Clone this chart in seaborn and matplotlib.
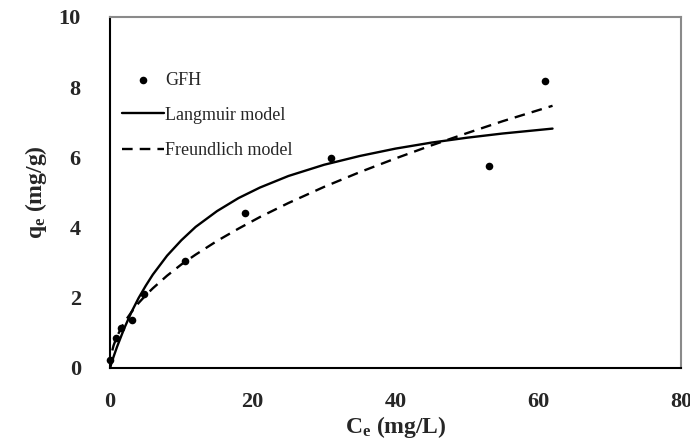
import matplotlib
matplotlib.use("Agg")
import matplotlib.pyplot as plt
import seaborn as sns
import pandas as pd

ce_points = [0.0, 0.9, 1.6, 3.1, 4.7, 10.5, 18.9, 31.0, 53.1, 61.0]
qe_points = [0.23, 0.85, 1.13, 1.37, 2.10, 3.06, 4.42, 5.98, 5.75, 8.18]

# Model curves
ce_curve = [0, 0.2, 0.5, 1, 2, 3, 4, 5, 6, 8, 10, 12, 15, 18, 21, 25, 30, 35, 40, 45, 50, 55, 62]
q_langmuir = [0, 0.13, 0.32, 0.61, 1.13, 1.59, 1.99, 2.34, 2.66, 3.20, 3.64, 4.02, 4.47,
              4.84, 5.14, 5.47, 5.79, 6.04, 6.25, 6.42, 6.56, 6.68, 6.82]
q_freundlich = [0, 0.40, 0.64, 0.91, 1.30, 1.59, 1.85, 2.07, 2.27, 2.63, 2.95, 3.23, 3.62,
                3.97, 4.30, 4.70, 5.16, 5.58, 5.97, 6.34, 6.69, 7.03, 7.47]

x_ticks = [0, 20, 40, 60, 80]
y_ticks = [0, 2, 4, 6, 8, 10]

sns.set_style("white")
plt.rcParams["font.family"] = ["Liberation Serif", "DejaVu Serif"]
plt.rcParams["mathtext.fontset"] = "custom"
plt.rcParams["mathtext.rm"] = "Liberation Serif:bold"
plt.rcParams["mathtext.it"] = "Liberation Serif:bold"
plt.rcParams["mathtext.bf"] = "Liberation Serif:bold"
plt.rcParams["mathtext.default"] = "bf"

pts = pd.DataFrame({"Ce": ce_points, "qe": qe_points})
curves = pd.DataFrame({"Ce": ce_curve, "L": q_langmuir, "F": q_freundlich})

fig = plt.figure(figsize=(6.9, 4.48), dpi=100)
ax = fig.add_axes([0.1594, 0.1786, 0.8276, 0.7835])

sns.scatterplot(data=pts, x="Ce", y="qe", ax=ax, color="black", s=30,
                edgecolor="black", linewidth=0, label="GFH", zorder=5, clip_on=False)
sns.lineplot(data=curves, x="Ce", y="L", ax=ax, color="black", linewidth=1.7,
             label="Langmuir model")
sns.lineplot(data=curves, x="Ce", y="F", ax=ax, color="black", linewidth=1.7,
             linestyle=(0, (4.5, 3)), label="Freundlich model")

ax.set_xlim(0, 80)
ax.set_ylim(0, 10)
ax.set_xticks(x_ticks)
ax.set_yticks(y_ticks)
ax.tick_params(axis="both", length=0, labelsize=16)
ax.tick_params(axis="y", pad=21)
ax.tick_params(axis="x", pad=17)
for lab in ax.get_xticklabels() + ax.get_yticklabels():
    lab.set_fontweight("bold")

ax.set_xlabel(r"C$_e$ (mg/L)", fontsize=17, fontweight="bold", labelpad=2)
ax.set_ylabel(r"q$_e$ (mg/g)", fontsize=17, fontweight="bold", labelpad=7)

for side in ["left", "bottom"]:
    ax.spines[side].set_color("black")
    ax.spines[side].set_linewidth(1.5)
for side in ["top", "right"]:
    ax.spines[side].set_color("#8a8a8a")
    ax.spines[side].set_linewidth(1.5)

leg = ax.legend(loc="upper left", bbox_to_anchor=(0.021, 0.844), frameon=False,
                fontsize=13, handlelength=2.3, handletextpad=0.1, labelspacing=1.0,
                borderpad=0, borderaxespad=0)

fig.savefig("out.png", dpi=100)
